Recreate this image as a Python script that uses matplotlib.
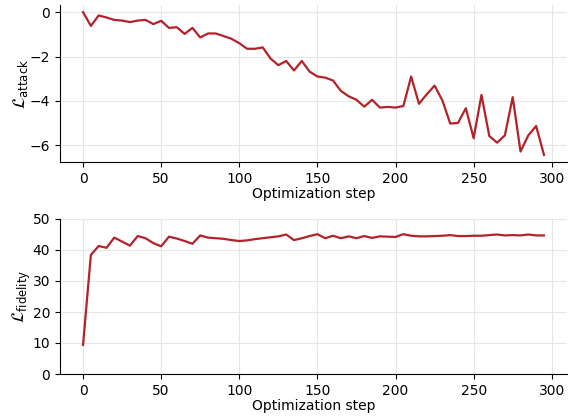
import numpy as np
import matplotlib
matplotlib.use("Agg")
import matplotlib.pyplot as plt

steps = np.arange(0, 300, 5)

attack_loss = [
    0.00, -0.62, -0.15, -0.24, -0.35, -0.38, -0.45, -0.38, -0.35, -0.54,
    -0.39, -0.71, -0.68, -0.98, -0.71, -1.14, -0.96, -0.96, -1.08, -1.20,
    -1.40, -1.65, -1.65, -1.59, -2.09, -2.39, -2.20, -2.63, -2.20, -2.68,
    -2.90, -2.95, -3.08, -3.55, -3.79, -3.95, -4.26, -3.95, -4.30, -4.27,
    -4.30, -4.23, -2.90, -4.13, -3.70, -3.31, -3.98, -5.02, -4.99, -4.33,
    -5.68, -3.73, -5.58, -5.88, -5.55, -3.83, -6.28, -5.55, -5.13, -6.43,
]

fidelity_loss = [
    9.4, 38.4, 41.3, 40.7, 44.0, 42.7, 41.4, 44.5, 43.8, 42.2,
    41.2, 44.3, 43.7, 42.9, 42.0, 44.7, 44.0, 43.8, 43.6, 43.2,
    42.9, 43.1, 43.5, 43.8, 44.1, 44.4, 45.0, 43.2, 43.8, 44.5,
    45.1, 43.8, 44.6, 43.8, 44.4, 43.8, 44.5, 43.9, 44.4, 44.3,
    44.2, 45.1, 44.6, 44.4, 44.4, 44.5, 44.6, 44.8, 44.5, 44.5,
    44.6, 44.6, 44.8, 45.0, 44.7, 44.8, 44.7, 45.0, 44.7, 44.7,
]

color = "#b22228"

fig = plt.figure(figsize=(5.71, 4.17), dpi=100)
ax1 = fig.add_axes([60 / 571, 1 - 162 / 417, 507 / 571, 157 / 417])
ax2 = fig.add_axes([60 / 571, 1 - 374 / 417, 507 / 571, 155 / 417])

for ax, y in ((ax1, attack_loss), (ax2, fidelity_loss)):
    ax.plot(steps, y, color=color, lw=1.6)
    ax.grid(True, color="#e6e6e6", lw=0.8)
    ax.set_axisbelow(True)
    for s in ("top", "right"):
        ax.spines[s].set_visible(False)
    ax.set_xlabel("Optimization step", fontsize=10, labelpad=1)
    ax.tick_params(labelsize=10)
    ax.set_xticks([0, 50, 100, 150, 200, 250, 300])

ax1.set_yticks([0, -2, -4, -6])
ax1.set_ylabel(r"$\mathcal{L}_{\mathrm{attack}}$", fontsize=12, labelpad=0)
ax2.set_ylim(0, 50)
ax2.set_yticks([0, 10, 20, 30, 40, 50])
ax2.set_ylabel(r"$\mathcal{L}_{\mathrm{fidelity}}$", fontsize=12, labelpad=0)

fig.savefig("out.png", dpi=100)
